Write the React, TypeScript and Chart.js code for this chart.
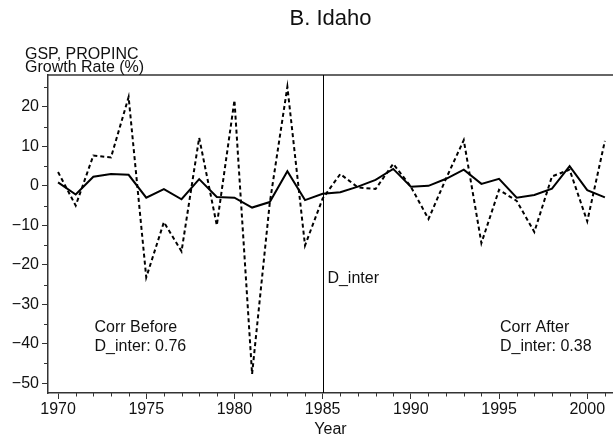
import React, { useEffect, useRef } from "react";
import { Chart, registerables } from "chart.js";

Chart.register(...registerables);

const years = [
  1970, 1971, 1972, 1973, 1974, 1975, 1976, 1977, 1978, 1979, 1980, 1981, 1982, 1983, 1984, 1985,
  1986, 1987, 1988, 1989, 1990, 1991, 1992, 1993, 1994, 1995, 1996, 1997, 1998, 1999, 2000, 2001,
];
const gspGrowth = [
  0.9, -2.2, 2.3, 3.0, 2.8, -3.0, -0.8, -3.4, 1.7, -2.8, -3.0, -5.5, -4.1, 3.7, -3.6, -2.0,
  -1.6, -0.2, 1.5, 4.3, -0.2, 0.0, 1.8, 4.1, 0.5, 1.8, -3.0, -2.3, -0.7, 5.0, -1.1, -2.9,
];
const propincGrowth = [
  3.5, -5.0, 7.7, 7.2, 22.5, -23.2, -9.2, -16.6, 12.2, -10.0, 21.7, -47.7, -4.4, 25.1, -15.1, -3.2,
  3.0, -0.4, -0.8, 5.6, -0.2, -8.4, 1.9, 11.6, -14.5, -1.0, -3.8, -11.7, 2.4, 4.1, -9.0, 11.4,
];
const xMajorTicks = [1970, 1975, 1980, 1985, 1990, 1995, 2000];
const yMajorTicks = [-50, -40, -30, -20, -10, 0, 10, 20];
const yMinorTicks = [-45, -35, -25, -15, -5, 5, 15, 25];
const interventionYear = 1985;

const titleText = "B. Idaho";
const yTitleLines = ["GSP, PROPINC", "Growth Rate (%)"];
const xTitle = "Year";
const corrBefore = ["Corr Before", "D_inter: 0.76"];
const corrAfter = ["Corr After", "D_inter: 0.38"];
const interLabel = "D_inter";

const FONT = "'Liberation Sans', Arial, Helvetica, sans-serif";
const AXIS_COLOR = "#333333";

const annotationPlugin = {
  id: "annotations",
  afterDraw(chart: any) {
    const { ctx, chartArea, scales } = chart;
    const xs = scales.x;
    const ys = scales.y;
    ctx.save();
    // top frame line
    ctx.strokeStyle = AXIS_COLOR;
    ctx.lineWidth = 1.5;
    ctx.beginPath();
    ctx.moveTo(chartArea.left - 0.75, chartArea.top);
    ctx.lineTo(chartArea.right, chartArea.top);
    ctx.stroke();

    // minor ticks x
    ctx.lineWidth = 1;
    for (let yr = Math.ceil(xs.min); yr <= Math.floor(xs.max); yr++) {
      if (xMajorTicks.includes(yr)) continue;
      const px = Math.round(xs.getPixelForValue(yr)) + 0.5;
      ctx.beginPath();
      ctx.moveTo(px, chartArea.bottom);
      ctx.lineTo(px, chartArea.bottom + 3.5);
      ctx.stroke();
    }
    // minor ticks y
    for (const v of yMinorTicks) {
      const py = Math.round(ys.getPixelForValue(v)) + 0.5;
      ctx.beginPath();
      ctx.moveTo(chartArea.left, py);
      ctx.lineTo(chartArea.left - 4, py);
      ctx.stroke();
    }

    // vertical intervention line
    const vx = Math.round(xs.getPixelForValue(interventionYear)) + 0.5;
    ctx.strokeStyle = "#000";
    ctx.lineWidth = 1;
    ctx.beginPath();
    ctx.moveTo(vx, chartArea.top);
    ctx.lineTo(vx, chartArea.bottom);
    ctx.stroke();

    ctx.fillStyle = "#111";
    ctx.textBaseline = "alphabetic";

    // title
    ctx.font = `22px ${FONT}`;
    ctx.textAlign = "center";
    ctx.fillText(titleText, (chartArea.left + chartArea.right) / 2, 25);

    // y title
    ctx.font = `16px ${FONT}`;
    ctx.textAlign = "left";
    ctx.fillText(yTitleLines[0], 25, 58.5);
    ctx.fillText(yTitleLines[1], 25, 72);

    // x title
    ctx.textAlign = "center";
    ctx.fillText(xTitle, (chartArea.left + chartArea.right) / 2, 433.5);

    // annotations (data coordinates)
    ctx.textAlign = "left";
    ctx.fillText(corrBefore[0], xs.getPixelForValue(1972.07), ys.getPixelForValue(-37.0));
    ctx.fillText(corrBefore[1], xs.getPixelForValue(1972.07), ys.getPixelForValue(-41.8));
    ctx.fillText(corrAfter[0], xs.getPixelForValue(1995.05), ys.getPixelForValue(-37.0));
    ctx.fillText(corrAfter[1], xs.getPixelForValue(1995.05), ys.getPixelForValue(-41.8));
    ctx.fillText(interLabel, xs.getPixelForValue(1985.27), ys.getPixelForValue(-24.7));
    ctx.restore();
  },
};

export default function App() {
  const canvasRef = useRef<HTMLCanvasElement | null>(null);

  useEffect(() => {
    if (!canvasRef.current) return;
    Chart.defaults.font.family = FONT;
    const chart = new Chart(canvasRef.current, {
      type: "line",
      data: {
        datasets: [
          {
            label: "PROPINC",
            data: years.map((yr, i) => ({ x: yr, y: propincGrowth[i] })),
            borderColor: "#000",
            borderWidth: 2,
            borderDash: [4, 3],
            pointRadius: 0,
            tension: 0,
            fill: false,
          },
          {
            label: "GSP",
            data: years.map((yr, i) => ({ x: yr, y: gspGrowth[i] })),
            borderColor: "#000",
            borderWidth: 2,
            pointRadius: 0,
            tension: 0,
            fill: false,
          },
        ],
      },
      options: {
        responsive: false,
        animation: false,
        devicePixelRatio: 1,
        layout: { padding: { top: 75, left: 0, right: 0, bottom: 0 } },
        plugins: {
          legend: { display: false },
          tooltip: { enabled: false },
          title: { display: false },
        },
        scales: {
          x: {
            type: "linear",
            min: 1969.43,
            max: 2001.46,
            afterBuildTicks: (scale: any) => {
              scale.ticks = xMajorTicks.map((v) => ({ value: v }));
            },
            afterFit: (scale: any) => {
              scale.height = 46;
            },
            ticks: {
              autoSkip: false,
              maxRotation: 0,
              minRotation: 0,
              padding: 1,
              color: "#111",
              font: { size: 16, family: FONT },
              callback: (v: any) => String(v),
            },
            grid: {
              display: true,
              drawOnChartArea: false,
              drawTicks: true,
              tickLength: 6,
              tickColor: AXIS_COLOR,
              tickWidth: 1,
            },
            border: { display: true, color: AXIS_COLOR, width: 1.5 },
          },
          y: {
            type: "linear",
            min: -52.5,
            max: 28.1,
            afterBuildTicks: (scale: any) => {
              scale.ticks = yMajorTicks.map((v) => ({ value: v }));
            },
            afterFit: (scale: any) => {
              scale.width = 48;
            },
            ticks: {
              padding: 3,
              color: "#111",
              font: { size: 16, family: FONT },
              callback: (v: any) => (v < 0 ? "\u2212" + Math.abs(v) : String(v)),
            },
            grid: {
              display: true,
              drawOnChartArea: false,
              drawTicks: true,
              tickLength: 6,
              tickColor: AXIS_COLOR,
              tickWidth: 1,
            },
            border: { display: true, color: AXIS_COLOR, width: 1.5 },
          },
        },
      },
      plugins: [annotationPlugin],
    } as any);
    return () => chart.destroy();
  }, []);

  return (
    <div style={{ position: "fixed", left: 0, top: 0, width: 613, height: 439, background: "#fff" }}>
      <canvas ref={canvasRef} width={613} height={439} style={{ display: "block" }} />
    </div>
  );
}
